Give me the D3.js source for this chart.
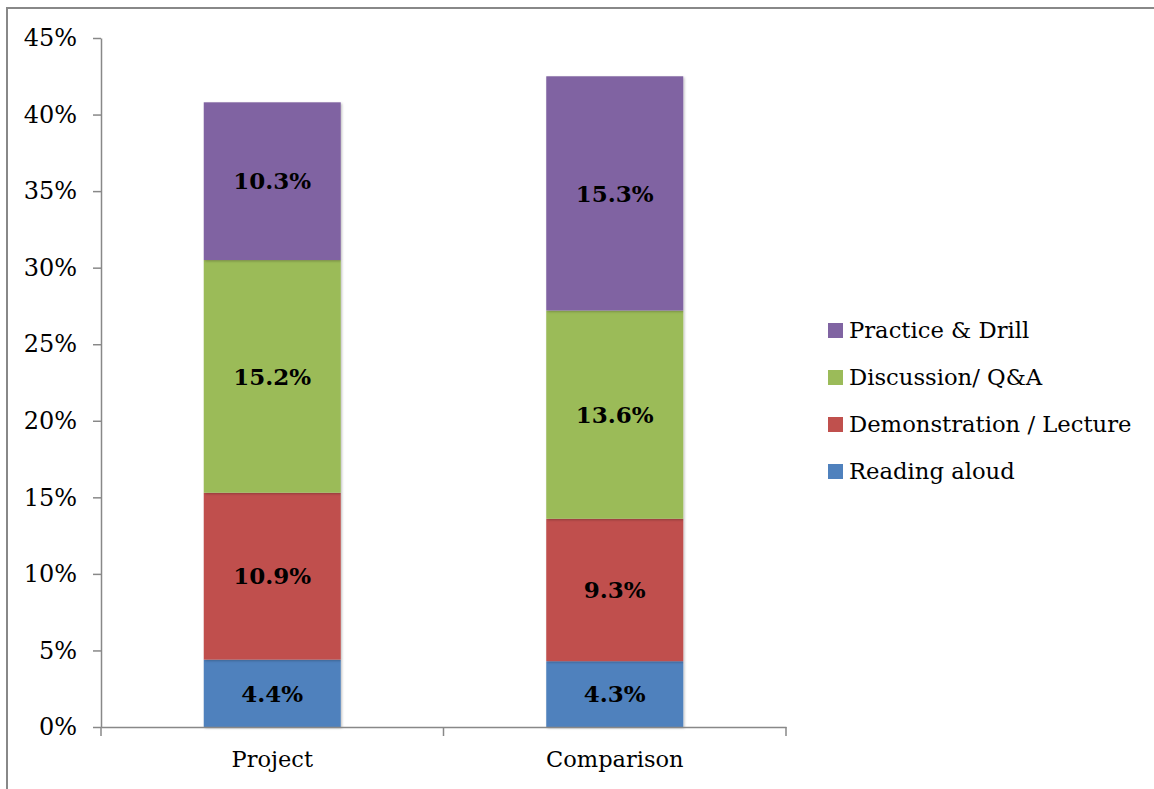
<!DOCTYPE html>
<html>
<head>
<meta charset="utf-8">
<script src="https://cdn.jsdelivr.net/npm/d3@7"></script>
<style>
  html, body { margin: 0; padding: 0; background: #fff; }
  svg { display: block; }
  text { font-family: "DejaVu Serif", serif; fill: #000; }
</style>
</head>
<body>
<svg id="chart" width="1154" height="789"></svg>
<script>
// Share of class time by activity type
const categories = ["Project", "Comparison"];
const seriesNames = ["Reading aloud", "Demonstration / Lecture", "Discussion/ Q&A", "Practice & Drill"];
const readingAloud = [4.4, 4.3];
const demonstrationLecture = [10.9, 9.3];
const discussionQA = [15.2, 13.6];
const practiceDrill = [10.3, 15.3];
const yTicks = [0, 5, 10, 15, 20, 25, 30, 35, 40, 45];
const colors = ["#4F81BD", "#C0504D", "#9BBB59", "#8064A2"];

const seriesValues = [readingAloud, demonstrationLecture, discussionQA, practiceDrill];
const rows = categories.map((c, i) => {
  const r = { category: c };
  seriesNames.forEach((s, j) => { r[s] = seriesValues[j][i]; });
  return r;
});
const stacked = d3.stack().keys(seriesNames)(rows);

const svg = d3.select("#chart");

// outer chart frame
svg.append("rect")
  .attr("x", 7).attr("y", 8).attr("width", 1160).attr("height", 800)
  .attr("fill", "none").attr("stroke", "#888").attr("stroke-width", 2);

const plot = { left: 101, right: 786, top: 38, bottom: 727 };

const x = d3.scaleBand().domain(categories)
  .range([plot.left, plot.right]).paddingInner(0).paddingOuter(0);
const y = d3.scaleLinear().domain([0, 45]).range([plot.bottom, plot.top]);
const barW = x.bandwidth() * 0.4;

// soft shadow under the bars
const defs = svg.append("defs");
const f = defs.append("filter").attr("id", "shadow")
  .attr("x", "-10%").attr("y", "-10%").attr("width", "130%").attr("height", "130%");
f.append("feDropShadow").attr("dx", 1.2).attr("dy", 1.2).attr("stdDeviation", 1)
  .attr("flood-color", "#000").attr("flood-opacity", 0.25);

const barsG = svg.append("g");
barsG.selectAll("g.series").data(stacked).join("g")
  .attr("class", "series")
  .attr("fill", (d, i) => colors[i])
  .selectAll("rect").data(d => d).join("rect")
  .attr("x", d => x(d.data.category) + (x.bandwidth() - barW) / 2)
  .attr("y", d => y(d[1]))
  .attr("width", barW)
  .attr("height", d => y(d[0]) - y(d[1]))
  .attr("filter", "url(#shadow)");

// value labels
const labelsG = svg.append("g");
stacked.forEach(s => {
  s.forEach(d => {
    labelsG.append("text")
      .attr("x", x(d.data.category) + x.bandwidth() / 2)
      .attr("y", (y(d[0]) + y(d[1])) / 2)
      .attr("dy", "0.36em")
      .attr("text-anchor", "middle")
      .attr("font-size", 23)
      .attr("font-weight", "bold")
      .text(d3.format(".1f")(d[1] - d[0]) + "%");
  });
});

// y axis
const yAxis = svg.append("g")
  .attr("transform", `translate(${plot.left},0)`)
  .call(d3.axisLeft(y).tickValues(yTicks).tickFormat(d => d + "%").tickSizeInner(8).tickSizeOuter(0).tickPadding(16));
yAxis.selectAll("text").attr("font-size", 24).attr("font-family", "DejaVu Serif");
yAxis.selectAll("line, path").attr("stroke", "#888").attr("stroke-width", 1.5);

// x axis
const xAxis = svg.append("g")
  .attr("transform", `translate(0,${plot.bottom})`)
  .call(d3.axisBottom(x).tickSize(0).tickPadding(24));
xAxis.selectAll("text").attr("font-size", 22.5).attr("font-family", "DejaVu Serif");
xAxis.selectAll("path").attr("stroke", "#888").attr("stroke-width", 1.5);
xAxis.selectAll(".tick line").remove();
// boundary ticks between categories
const bounds = [plot.left, plot.left + x.bandwidth(), plot.right];
xAxis.selectAll("line.bound").data(bounds).join("line")
  .attr("class", "bound")
  .attr("x1", d => d).attr("x2", d => d)
  .attr("y1", 0).attr("y2", 9)
  .attr("stroke", "#888").attr("stroke-width", 1.5);

// legend
const legendItems = seriesNames.map((n, i) => ({ name: n, color: colors[i] })).reverse();
const legend = svg.append("g").attr("transform", "translate(828,330)");
const li = legend.selectAll("g").data(legendItems).join("g")
  .attr("transform", (d, i) => `translate(0,${i * 47})`);
li.append("rect").attr("x", 0).attr("y", -7).attr("width", 15).attr("height", 15)
  .attr("fill", d => d.color);
li.append("text").attr("x", 21).attr("y", 0).attr("dy", "0.36em")
  .attr("font-size", 22.7).text(d => d.name);
</script>
</body>
</html>
